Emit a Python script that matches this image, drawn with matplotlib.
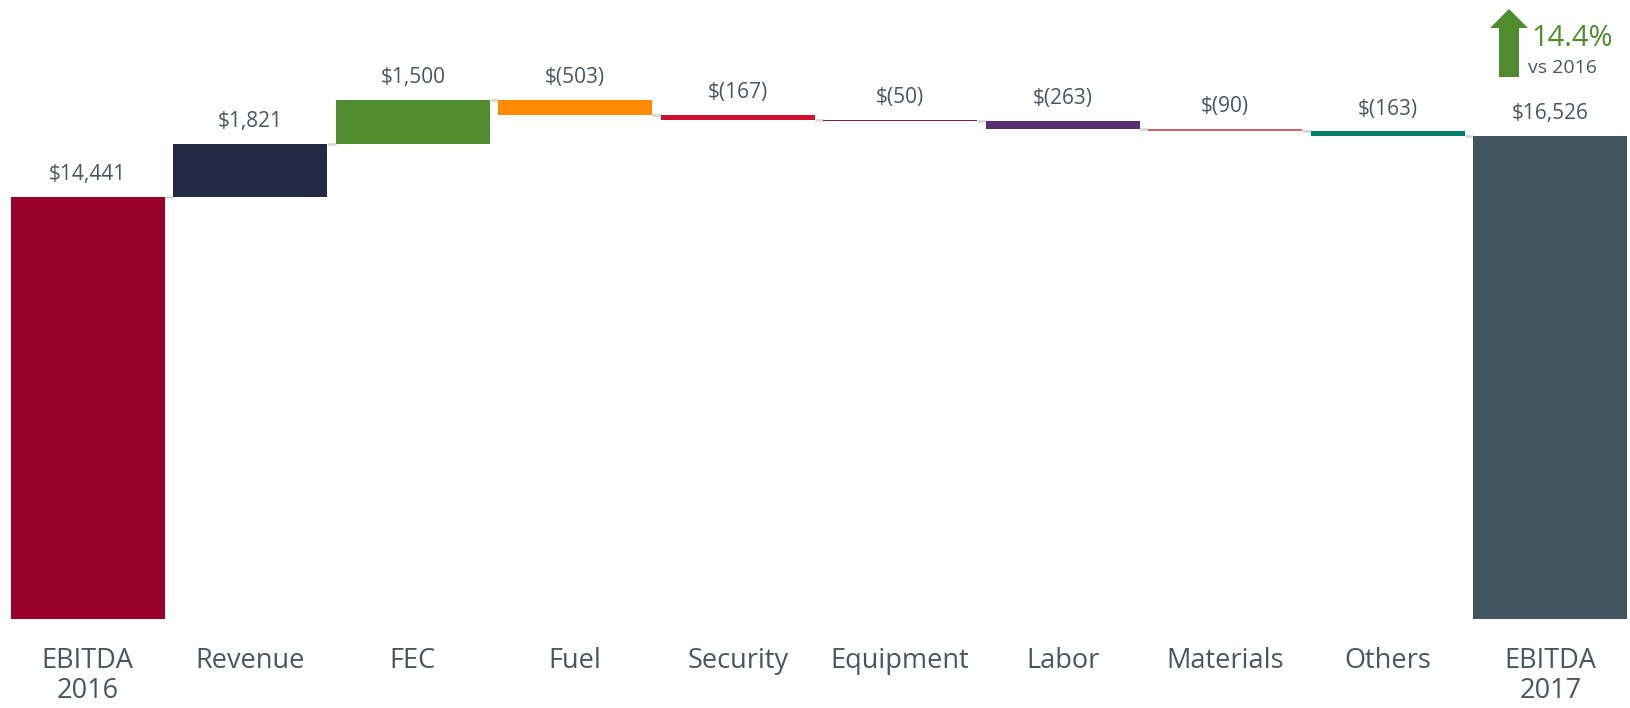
import matplotlib
matplotlib.use("Agg")
import matplotlib.pyplot as plt
from matplotlib.patches import Polygon

categories = ["EBITDA\n2016", "Revenue", "FEC", "Fuel", "Security", "Equipment",
              "Labor", "Materials", "Others", "EBITDA\n2017"]
values = [14441, 1821, 1500, -503, -167, -50, -263, -90, -163, 16526]
value_labels = ["$14,441", "$1,821", "$1,500", "$(503)", "$(167)", "$(50)",
                "$(263)", "$(90)", "$(163)", "$16,526"]
colors = ["#96002b", "#222944", "#4e8c2e", "#ff8c00", "#d0102e", "#8b1a4a",
          "#5a2d6e", "#d06464", "#00806e", "#40555f"]
change_pct = "14.4%"
change_note = "vs 2016"

TEXT = "#465764"
GREEN = "#4e8c2e"
plt.rcParams["font.family"] = ["Open Sans", "DejaVu Sans"]

W, H, DPI = 1630, 708, 100
fig = plt.figure(figsize=(W / DPI, H / DPI), dpi=DPI)
fig.patch.set_facecolor("white")

bw = 0.945
ymax = 21000
px_per_unit = 422 / 14441
base_px = 619
ax_h = ymax * px_per_unit
ax = fig.add_axes([11 / W, (H - base_px) / H, 1616 / W, ax_h / H])
ax.set_xlim(-bw / 2, len(values) - 1 + bw / 2)
ax.set_ylim(0, ymax)

# waterfall geometry
bottoms, tops = [], []
level = 0
for i, v in enumerate(values):
    if i == 0 or i == len(values) - 1:
        b, t = 0, v
        level = v
    else:
        b, t = (level, level + v) if v >= 0 else (level + v, level)
        level += v
    bottoms.append(b)
    tops.append(t)

heights = [t - b for b, t in zip(bottoms, tops)]
ax.bar(range(len(values)), heights, bottom=bottoms, width=bw, color=colors,
       edgecolor="none", zorder=3)

# connectors
running = values[0]
for i in range(len(values) - 1):
    ax.plot([i + bw / 2, i + 1 - bw / 2], [running, running], color="#d9d9d9",
            lw=2, zorder=2, solid_capstyle="butt")
    if 0 < i + 1 < len(values) - 1:
        running += values[i + 1]

for i, (t, lab) in enumerate(zip(tops, value_labels)):
    ax.annotate(lab, (i, t), xytext=(0, 16), textcoords="offset points",
                ha="center", va="center", fontsize=15, color=TEXT)

ax.set_xticks(range(len(values)))
ax.set_xticklabels(categories, fontsize=19.5, color=TEXT, linespacing=1.1)
ax.tick_params(axis="x", length=0, pad=20)
ax.set_yticks([])
for s in ax.spines.values():
    s.set_visible(False)
ax.patch.set_alpha(0)

# growth arrow
def fx(px):
    return px / W

def fy(py):
    return 1 - py / H

pts = [(1509, 9), (1528, 28), (1519, 28), (1519, 77), (1499, 77), (1499, 28), (1490, 28)]
fig.patches.append(Polygon([(fx(x), fy(y)) for x, y in pts], closed=True,
                           transform=fig.transFigure, facecolor=GREEN,
                           edgecolor="none", figure=fig))
fig.text(fx(1531), fy(39), change_pct, color=GREEN, fontsize=21, ha="left", va="center")
fig.text(fx(1528), fy(68), change_note, color=TEXT, fontsize=14, ha="left", va="center")

fig.savefig("out.png", dpi=DPI)
